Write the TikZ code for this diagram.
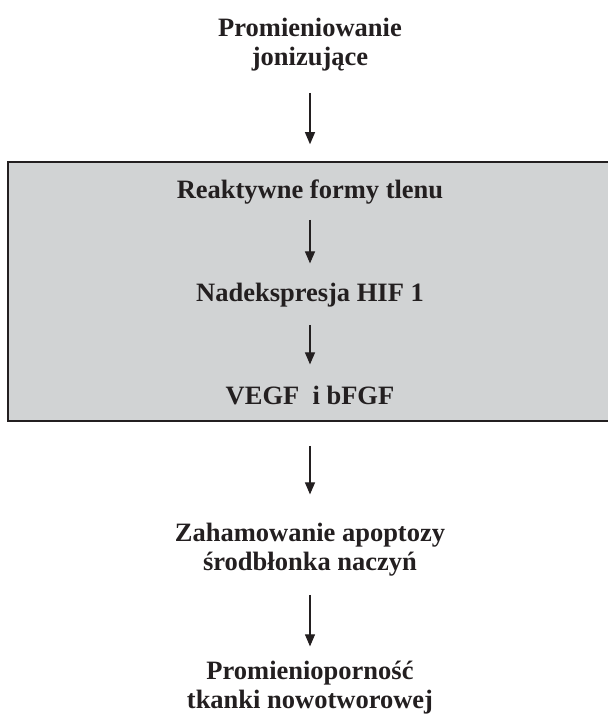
\documentclass[tikz,border=0pt]{standalone}
\usepackage{fontspec}
\setmainfont{Liberation Serif}
\usetikzlibrary{arrows.meta}
\definecolor{panelgray}{RGB}{209,211,212}
\definecolor{inkdark}{RGB}{35,31,32}
\begin{document}
\begin{tikzpicture}[x=1pt,y=-1pt,
		txt/.style={font=\fontsize{26.5}{29}\selectfont\bfseries, text=inkdark, align=center, inner sep=0pt, anchor=base},
		strz/.style={-{Triangle[length=12pt,width=10pt]}, line width=1.1pt, draw=inkdark},
		panel/.style={draw=inkdark, fill=panelgray, line width=1.6pt, minimum width=604pt, minimum height=259pt, inner sep=0pt}]
		%%Location
		\useasboundingbox (0,0) rectangle (608,716);
		%%Box
		\node[panel] (ramka) at (310,291.5) {};
		%%Labels (base = last line)
		\node[txt] (prom) at (310,65) {Promieniowanie\\jonizujące};
		\node[txt] (reak) at (310,198) {Reaktywne formy tlenu};
		\node[txt] (nadek) at (310,301) {Nadekspresja HIF 1};
		\node[txt] (vegf) at (310,404) {VEGF\ \ i bFGF};
		\node[txt] (zaham) at (310,570) {Zahamowanie apoptozy\\środbłonka naczyń};
		\node[txt] (oporn) at (310,708) {Promienioporność\\tkanki nowotworowej};
		%%Arrows
		\draw[strz, shorten <=22pt, shorten >=17pt] (prom.south) -- (ramka.north);
		\draw[strz, shorten <=16pt, shorten >=19pt] (reak.south) -- (nadek.north);
		\draw[strz, shorten <=18pt, shorten >=21pt] (nadek.south) -- (vegf.north);
		\draw[strz, shorten <=24pt, shorten >=28pt] (ramka.south) -- (zaham.north);
		\draw[strz, shorten <=19pt, shorten >=14pt] (zaham.south) -- (oporn.north);
\end{tikzpicture}
\end{document}
